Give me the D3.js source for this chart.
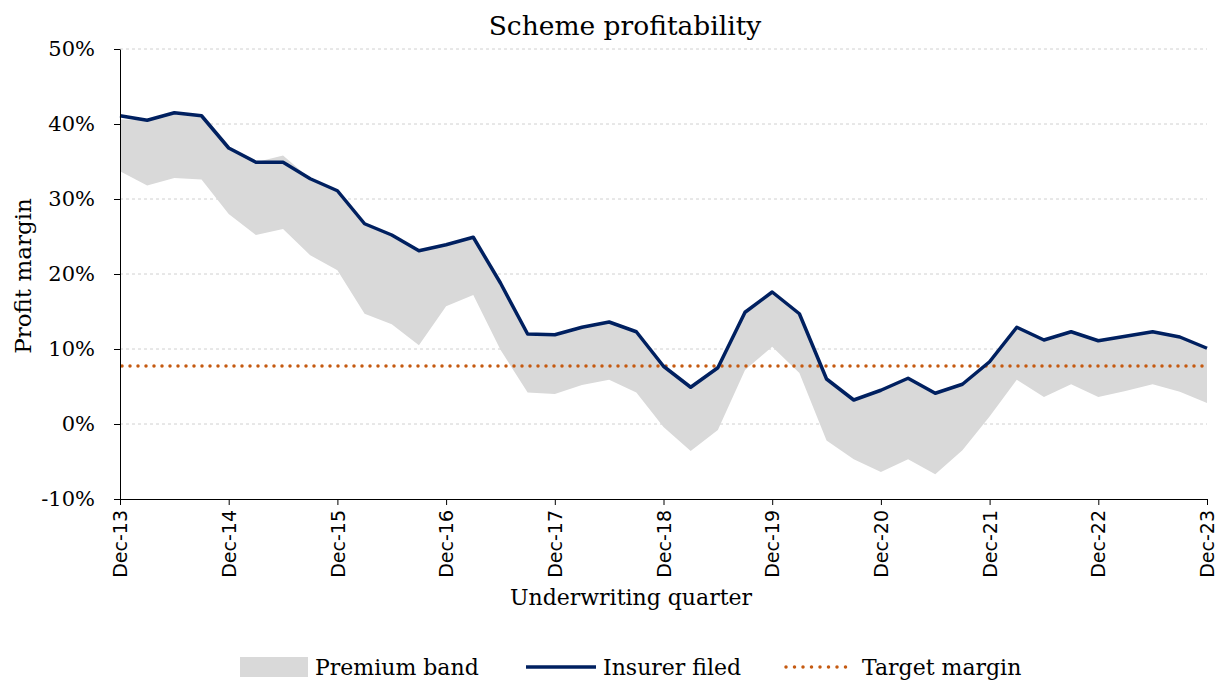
<!DOCTYPE html>
<html>
<head>
<meta charset="utf-8">
<script src="https://cdn.jsdelivr.net/npm/d3@7"></script>
<style>
  html, body { margin: 0; padding: 0; background: #fff; }
  svg { display: block; }
</style>
</head>
<body>
<script>
// 全体サイズ
const width = 1223;
const height = 682;

// 描画領域の余白
const margin = { top: 49, right: 16, bottom: 183, left: 120 };

// 色
const colors = {
  band: "#d9d9d9",
  filed: "#002060",
  target: "#c55a11",
  grid: "#d0d0d0",
};

// 四半期ラベル（Dec-13 〜 Dec-23）
const months = ["Mar", "Jun", "Sep", "Dec"];
const quarters = ["Dec-13"];
for (let y = 14; y <= 23; y++) {
  months.forEach((m) => quarters.push(`${m}-${y}`));
}

// 保険会社の届出利益率（%）
const filed = [
  41.1, 40.5, 41.5, 41.1, 36.8, 34.9, 34.9, 32.7, 31.1, 26.7, 25.2, 23.1, 23.9, 24.9,
  18.8, 12.0, 11.9, 12.9, 13.6, 12.3, 7.7, 4.9, 7.5, 14.9, 17.6, 14.7, 6.0, 3.2, 4.5,
  6.1, 4.1, 5.3, 8.3, 12.9, 11.2, 12.3, 11.1, 11.7, 12.3, 11.6, 10.1,
];

// プレミアムバンドの上端・下端（%）
const bandHigh = [
  40.6, 40.5, 41.5, 41.1, 36.8, 34.9, 35.8, 32.7, 31.1, 26.7, 25.2, 23.1, 23.9, 24.9,
  18.8, 12.0, 11.9, 12.9, 13.6, 12.3, 7.7, 4.9, 7.5, 14.9, 17.6, 14.7, 6.0, 3.2, 4.5,
  6.1, 4.1, 5.3, 8.3, 12.9, 11.2, 12.3, 11.1, 11.7, 12.3, 11.6, 10.1,
];
const bandLow = [
  33.7, 31.8, 32.8, 32.6, 28.0, 25.2, 26.0, 22.5, 20.5, 14.7, 13.3, 10.5, 15.7, 17.2,
  9.9, 4.2, 4.0, 5.2, 5.9, 4.2, -0.4, -3.6, -0.8, 7.2, 10.3, 6.8, -2.2, -4.7, -6.4,
  -4.7, -6.7, -3.5, 1.0, 5.9, 3.6, 5.3, 3.6, 4.4, 5.3, 4.3, 2.8,
];

// 目標利益率
const targetMargin = 7.75;

const data = quarters.map((q, i) => ({
  q: q,
  filed: filed[i],
  high: bandHigh[i],
  low: bandLow[i],
}));

const svg = d3.select("body").append("svg").attr("width", width).attr("height", height);

// スケール
const x = d3
  .scalePoint()
  .domain(quarters)
  .range([margin.left, width - margin.right]);
const y = d3
  .scaleLinear()
  .domain([-10, 50])
  .range([height - margin.bottom, margin.top]);

const serif = "'DejaVu Serif', serif";
const sans = "'DejaVu Sans', sans-serif";

// グリッド線
svg
  .append("g")
  .selectAll("line")
  .data(d3.range(0, 51, 10))
  .enter()
  .append("line")
  .attr("x1", margin.left)
  .attr("x2", width - margin.right)
  .attr("y1", (d) => y(d))
  .attr("y2", (d) => y(d))
  .attr("stroke", colors.grid)
  .attr("stroke-width", 1)
  .attr("stroke-dasharray", "3,3");

// プレミアムバンド
svg
  .append("path")
  .datum(data)
  .attr("fill", colors.band)
  .attr(
    "d",
    d3
      .area()
      .x((d) => x(d.q))
      .y0((d) => y(d.low))
      .y1((d) => y(d.high))
  );

// 目標利益率（点線）
svg
  .append("line")
  .attr("x1", x(quarters[0]) + 2)
  .attr("x2", x(quarters[quarters.length - 1]))
  .attr("y1", y(targetMargin))
  .attr("y2", y(targetMargin))
  .attr("stroke", colors.target)
  .attr("stroke-width", 3.5)
  .attr("stroke-linecap", "round")
  .attr("stroke-dasharray", "0,8");

// 届出利益率の線
svg
  .append("path")
  .datum(data)
  .attr("fill", "none")
  .attr("stroke", colors.filed)
  .attr("stroke-width", 3.5)
  .attr("stroke-linejoin", "round")
  .attr(
    "d",
    d3
      .line()
      .x((d) => x(d.q))
      .y((d) => y(d.filed))
  );

// y軸
const yAxis = svg
  .append("g")
  .attr("transform", `translate(${margin.left},0)`)
  .call(
    d3
      .axisLeft(y)
      .tickValues(d3.range(-10, 51, 10))
      .tickSize(6)
      .tickSizeOuter(0)
      .tickFormat((d) => `${d}%`)
  );
yAxis.select(".domain").attr("stroke", "#000");
yAxis.selectAll(".tick line").attr("stroke", "#000");
yAxis
  .selectAll(".tick text")
  .attr("x", -25)
  .attr("font-family", serif)
  .attr("font-size", 21)
  .attr("fill", "#000");

// x軸（12月のみ目盛り）
const xAxis = svg
  .append("g")
  .attr("transform", `translate(0,${height - margin.bottom})`)
  .call(
    d3
      .axisBottom(x)
      .tickValues(quarters.filter((q) => q.startsWith("Dec")))
      .tickSize(6)
      .tickSizeOuter(0)
  );
xAxis.select(".domain").attr("stroke", "#000");
xAxis.selectAll(".tick line").attr("stroke", "#000");
xAxis
  .selectAll(".tick text")
  .attr("font-family", sans)
  .attr("font-size", 19)
  .attr("fill", "#000")
  .attr("text-anchor", "end")
  .attr("dy", "0.35em")
  .attr("transform", "translate(0,11) rotate(-90)")
  .attr("x", 0)
  .attr("y", 0);

// タイトル
svg
  .append("text")
  .attr("x", 625)
  .attr("y", 35)
  .attr("text-anchor", "middle")
  .attr("font-family", serif)
  .attr("font-size", 26.5)
  .text("Scheme profitability");

// 軸タイトル
svg
  .append("text")
  .attr("x", 631)
  .attr("y", 605)
  .attr("text-anchor", "middle")
  .attr("font-family", serif)
  .attr("font-size", 22)
  .text("Underwriting quarter");

svg
  .append("text")
  .attr("transform", `translate(31,${(margin.top + height - margin.bottom) / 2 + 2}) rotate(-90)`)
  .attr("text-anchor", "middle")
  .attr("font-family", serif)
  .attr("font-size", 23)
  .text("Profit margin");

// 凡例
const legend = svg.append("g").attr("transform", "translate(0,667)");

legend
  .append("rect")
  .attr("x", 240)
  .attr("y", -10)
  .attr("width", 68)
  .attr("height", 20)
  .attr("fill", colors.band);
legend
  .append("line")
  .attr("x1", 526)
  .attr("x2", 596)
  .attr("stroke", colors.filed)
  .attr("stroke-width", 3.5);
legend
  .append("line")
  .attr("x1", 786)
  .attr("x2", 854)
  .attr("stroke", colors.target)
  .attr("stroke-width", 3.5)
  .attr("stroke-linecap", "round")
  .attr("stroke-dasharray", "0,8.5");

legend
  .selectAll("text")
  .data([
    { x: 315, label: "Premium band" },
    { x: 603, label: "Insurer filed" },
    { x: 862, label: "Target margin" },
  ])
  .enter()
  .append("text")
  .attr("x", (d) => d.x)
  .attr("y", 0)
  .attr("dy", "0.35em")
  .attr("font-family", serif)
  .attr("font-size", 22)
  .text((d) => d.label);
</script>
</body>
</html>
